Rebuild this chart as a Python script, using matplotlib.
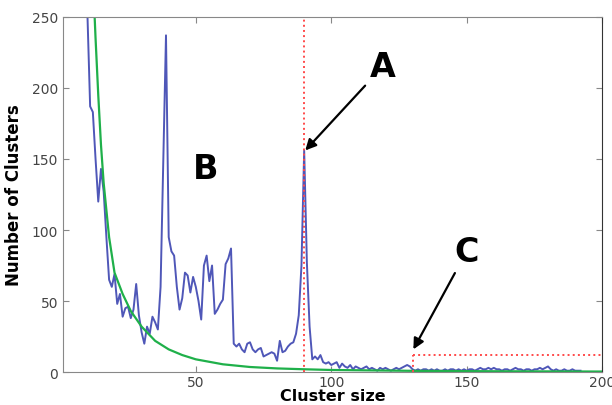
import matplotlib
matplotlib.use("Agg")
import matplotlib.pyplot as plt
import numpy as np

# observed cluster counts, one value per cluster size starting at 9
size_start = 9
cluster_counts = [
    340, 252, 187, 183, 150, 120, 143, 127, 95, 65,      # 9-18
    60, 69, 48, 55, 39, 45, 46, 38, 44, 62,              # 19-28
    40, 28, 20, 32, 27, 39, 35, 30, 60, 150,             # 29-38
    237, 95, 85, 82, 60, 44, 52, 70, 68, 56,             # 39-48
    67, 60, 50, 37, 75, 82, 64, 75, 41, 44,              # 49-58
    48, 51, 76, 80, 87, 20, 18, 20, 16, 14,              # 59-68
    20, 21, 16, 14, 16, 17, 11, 12, 13, 14,              # 69-78
    13, 8, 22, 14, 15, 18, 20, 21, 27, 40,               # 79-88
    75, 156, 77, 32, 9, 11, 9, 12, 7, 6,                 # 89-98
    7, 5, 6, 7, 3, 6, 4, 3, 5, 2,                        # 99-108
    4, 3, 2, 3, 4, 2, 3, 2, 1, 3,                        # 109-118
    2, 3, 2, 1, 2, 3, 2, 3, 4, 5,                        # 119-128
    4, 2, 1, 2, 1, 2, 2, 1, 2, 1,                        # 129-138
    2, 1, 1, 2, 1, 2, 2, 1, 2, 1,                        # 139-148
    2, 1, 2, 2, 1, 2, 3, 2, 2, 3,                        # 149-158
    2, 3, 2, 2, 1, 2, 2, 1, 2, 3,                        # 159-168
    2, 2, 1, 2, 2, 1, 2, 2, 3, 2,                        # 169-178
    3, 4, 2, 1, 2, 1, 1, 2, 1, 1,                        # 179-188
    2, 1, 1, 1,                                          # 189-192
]
cluster_sizes = np.arange(size_start, size_start + len(cluster_counts))

# reference (expected) curve
ref_sizes = [11, 12, 13, 14, 15, 16, 18, 20, 23, 26, 30, 35, 40, 45, 50,
             60, 70, 80, 90, 100, 130, 160, 200]
ref_counts = [330, 280, 235, 195, 160, 133, 95, 70, 55, 43, 32, 22, 16, 12, 9,
              5.5, 3.6, 2.6, 2.0, 1.5, 0.9, 0.6, 0.4]

peak_a = 90
cutoff_c = 130
cutoff_level = 12

fig = plt.figure(figsize=(6.12, 4.06), dpi=100)
ax = fig.add_axes([0.103, 0.081, 0.881, 0.875])

ax.plot(cluster_sizes, cluster_counts, color='#4f57b8', linewidth=1.4)
ax.plot(ref_sizes, ref_counts, color='#1fb04a', linewidth=1.6)

ax.axvline(peak_a, color='#ff4a4a', linestyle=':', linewidth=1.4)
ax.plot([cutoff_c, cutoff_c], [0, cutoff_level], color='#ff4a4a', linestyle=':', linewidth=1.4)
ax.plot([cutoff_c, 200], [cutoff_level, cutoff_level], color='#ff4a4a', linestyle=':', linewidth=1.4)

arrow = dict(arrowstyle='-|>', color='black', lw=1.6, shrinkA=2, shrinkB=0,
             mutation_scale=16)
ax.annotate('A', xy=(90.4, 156), xytext=(119, 215), fontsize=24, fontweight='bold',
            ha='center', va='center', arrowprops=arrow)
ax.text(53.5, 143, 'B', fontsize=24, fontweight='bold', ha='center', va='center')
ax.annotate('C', xy=(130.3, 16), xytext=(150, 85), fontsize=24, fontweight='bold',
            ha='center', va='center', arrowprops=arrow)

ax.set_xlim(1, 200)
ax.set_ylim(0, 250)
ax.set_xticks([50, 100, 150, 200])
ax.set_yticks([0, 50, 100, 150, 200, 250])
ax.tick_params(direction='in', top=True, right=True, labelsize=10,
               labelcolor='#444444', color='#888888', length=4)
ax.tick_params(axis='x', pad=2)
for side in ['left', 'bottom', 'top']:
    ax.spines[side].set_color('#888888')
ax.spines['right'].set_color('#333333')

ax.set_xlabel('Cluster size', fontsize=11.5, fontweight='bold', labelpad=-1)
ax.set_ylabel('Number of Clusters', fontsize=12, fontweight='bold', labelpad=6)

fig.savefig('out.png', dpi=100)
